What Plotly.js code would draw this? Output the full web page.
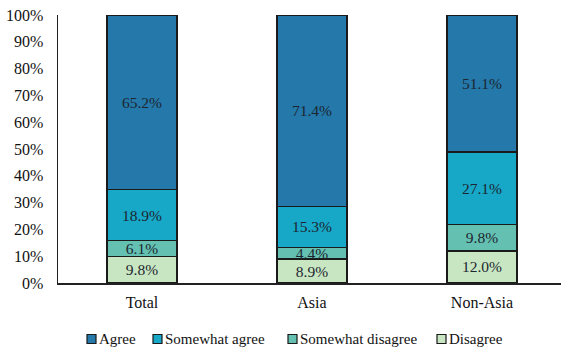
<!DOCTYPE html>
<html>
<head>
<meta charset="utf-8">
<script src="https://cdn.plot.ly/plotly-3.0.1.min.js"></script>
<style>html,body{margin:0;padding:0;background:#fff;}#chart{width:561px;height:351px;}</style>
</head>
<body>
<div id="chart"></div>
<script>
const categories = ['Total', 'Asia', 'Non-Asia'];
const seriesNames = ['Disagree', 'Somewhat disagree', 'Somewhat agree', 'Agree'];
const disagree = [9.8, 8.9, 12.0];
const somewhatDisagree = [6.1, 4.4, 9.8];
const somewhatAgree = [18.9, 15.3, 27.1];
const agree = [65.2, 71.4, 51.1];
const yTicks = [0, 10, 20, 30, 40, 50, 60, 70, 80, 90, 100];

const colors = ['#c9e6c2', '#64c1b2', '#17a8c8', '#2479aa'];
const seriesValues = [disagree, somewhatDisagree, somewhatAgree, agree];
const FONT = 'Liberation Serif, Times New Roman, serif';

const traces = seriesValues.map((vals, i) => ({
  type: 'bar',
  name: seriesNames[i],
  x: categories,
  y: vals,
  width: 0.41,
  marker: {color: colors[i], line: {color: '#1a1a1a', width: 1.5}},
  text: vals.map(v => v.toFixed(1) + '%'),
  textposition: 'inside',
  insidetextanchor: 'middle',
  textangle: 0,
  textfont: {family: FONT, size: 15.5, color: '#1c2630'},
  hoverinfo: 'skip'
}));

// Custom legend (symbol hugging the text as in the reference), in paper coords
const W = 561, H = 351, ML = 58, MR = 0, MT = 15, MB = 68;
const pw = W - ML - MR, ph = H - MT - MB;
const px2x = p => (p - ML) / pw;
const py2y = p => (H - MB - p) / ph;
const legendOrder = ['Agree', 'Somewhat agree', 'Somewhat disagree', 'Disagree'];
const legendX = [87, 153, 288, 437];
const legendCY = 339;
const shapes = [], annotations = [];
legendOrder.forEach((nm, k) => {
  const ci = seriesNames.indexOf(nm);
  shapes.push({
    type: 'rect', xref: 'paper', yref: 'paper',
    x0: px2x(legendX[k]), x1: px2x(legendX[k] + 9),
    y0: py2y(legendCY + 4.5), y1: py2y(legendCY - 4.5),
    fillcolor: colors[ci], line: {color: '#1a1a1a', width: 1.2}
  });
  annotations.push({
    xref: 'paper', yref: 'paper', x: px2x(legendX[k] + 10), y: py2y(legendCY),
    xanchor: 'left', yanchor: 'middle', showarrow: false, text: nm,
    font: {family: FONT, size: 15, color: '#111'}
  });
});

const layout = {
  width: W, height: H,
  margin: {l: ML, r: MR, t: MT, b: MB},
  barmode: 'stack',
  paper_bgcolor: '#fff', plot_bgcolor: '#fff',
  font: {family: FONT, size: 15, color: '#111'},
  uniformtext: {mode: 'show', minsize: 15},
  showlegend: false,
  shapes: shapes,
  annotations: annotations,
  xaxis: {
    range: [-0.494, 2.465],
    showline: true, linecolor: '#222', linewidth: 1.5,
    showgrid: false, zeroline: false, ticks: '',
    ticklabelstandoff: 4,
    tickfont: {family: FONT, size: 16, color: '#111'}
  },
  yaxis: {
    range: [0, 100],
    tickvals: yTicks,
    ticktext: yTicks.map(v => v + '%'),
    showline: true, linecolor: '#222', linewidth: 1.5,
    showgrid: false, zeroline: false, ticks: '',
    ticklabelstandoff: 10,
    tickfont: {family: FONT, size: 16, color: '#111'}
  }
};

Plotly.newPlot('chart', traces, layout, {displayModeBar: false, staticPlot: true});
</script>
</body>
</html>
